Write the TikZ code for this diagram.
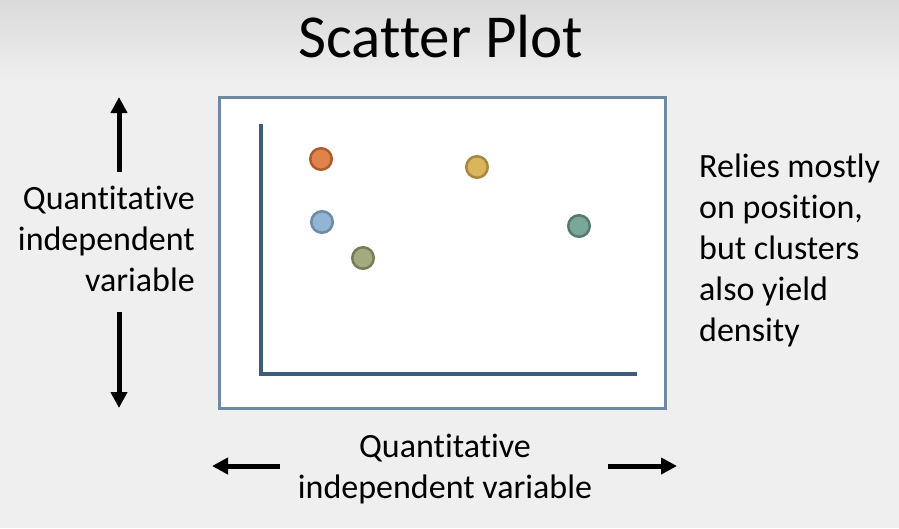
\documentclass[tikz,border=0pt]{standalone}
\usepackage{fontspec}
\setmainfont{Carlito}[Ligatures={NoCommon,NoContextual}]
\usetikzlibrary{arrows.meta}
\definecolor{bgtop}{HTML}{DADADA}
\definecolor{bgcol}{HTML}{EFEFEF}
\definecolor{framecol}{HTML}{6F89A2}
\definecolor{axiscol}{HTML}{3B5E7E}
\definecolor{orangefill}{HTML}{E0834A}\definecolor{orangeline}{HTML}{B05A2C}
\definecolor{yellowfill}{HTML}{D9B55C}\definecolor{yellowline}{HTML}{A8883E}
\definecolor{bluefill}{HTML}{93B5D4}\definecolor{blueline}{HTML}{6D8BA8}
\definecolor{olivefill}{HTML}{A2AA80}\definecolor{oliveline}{HTML}{767C56}
\definecolor{tealfill}{HTML}{79A89B}\definecolor{tealline}{HTML}{57796C}

\begin{document}
\begin{tikzpicture}[x=1pt, y=-1pt,
		dot/.style={circle, minimum size=21.5pt, inner sep=0pt, line width=2.5pt},
		label/.style={inner sep=0pt, font=\fontsize{34}{41}\selectfont},
		bigarrow/.style={line width=5pt, -{Triangle[length=16pt,width=16pt]}}]
		%%%%% START %%%%%
		\fill[top color=bgtop, bottom color=bgcol] (0, 0) rectangle (899, 80);
		\fill[bgcol] (0, 80) rectangle (899, 528);
		\useasboundingbox (0, 0) rectangle (899, 528);
		
		\node[anchor=base, inner sep=0pt, font=\fontsize{61}{73}\selectfont] (title) at (441, 57) {Scatter Plot};
		
		% plot frame and axes
		\draw[framecol, fill=white, line width=3pt] (219, 97) rectangle (665, 408);
		\draw[axiscol, line width=4.5pt] (261, 124) -- (261, 374) -- (637, 374);
		
		\node[dot, fill=orangefill, draw=orangeline] (orange) at (321, 159) {};
		\node[dot, fill=yellowfill, draw=yellowline] (yellow) at (477, 167) {};
		\node[dot, fill=bluefill, draw=blueline] (blue) at (322, 222) {};
		\node[dot, fill=olivefill, draw=oliveline] (olive) at (363, 258) {};
		\node[dot, fill=tealfill, draw=tealline] (teal) at (579, 226) {};
		
		% axis labels
		\node[label, align=right, anchor=east] (ylabel) at (195, 239) {Quantitative\\independent\\variable};
		\node[label, align=center] (xlabel) at (445, 469) {Quantitative\\independent variable};
		\node[label, align=left, anchor=west] (note) at (699, 250) {Relies mostly\\on position,\\but clusters\\also yield\\density};
		
		\coordinate (upfrom) at (119, 172);
		\coordinate (upto) at (119, 97);
		\coordinate (downfrom) at (119, 312);
		\coordinate (downto) at (119, 408);
		\coordinate (leftfrom) at (280, 466);
		\coordinate (leftto) at (212, 466);
		\coordinate (rightfrom) at (608, 466);
		\coordinate (rightto) at (677, 466);
		\draw[bigarrow] (upfrom) -- (upto);
		\draw[bigarrow] (downfrom) -- (downto);
		\draw[bigarrow] (leftfrom) -- (leftto);
		\draw[bigarrow] (rightfrom) -- (rightto);
		%%%%% END %%%%%
	\end{tikzpicture}
\end{document}
